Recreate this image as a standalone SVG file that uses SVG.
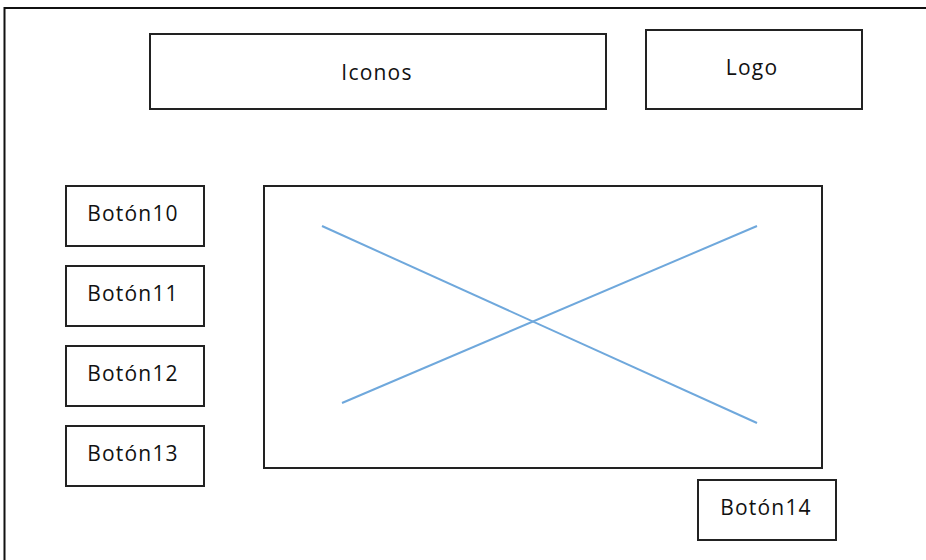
<svg xmlns="http://www.w3.org/2000/svg" width="926" height="560" viewBox="0 0 926 560">
  <style>
    .box { fill: #ffffff; stroke: #222222; stroke-width: 2; }
    .lbl { font-family: "Open Sans", "Noto Sans", sans-serif; font-size: 21px; letter-spacing: 1.2px; fill: #111111; text-anchor: middle; }
    .cross { stroke: #6fa8dc; stroke-width: 2; fill: none; }
  </style>
  <rect width="926" height="560" fill="#ffffff"/>
  <!-- page frame -->
  <rect id="frame" x="4.5" y="8" width="930" height="570" fill="none" stroke="#111111" stroke-width="2"/>

  <g id="iconos">
    <rect class="box" x="150" y="34" width="456" height="75"/>
    <text class="lbl" x="377" y="80">Iconos</text>
  </g>
  <g id="logo">
    <rect class="box" x="646" y="30" width="216" height="79"/>
    <text class="lbl" x="752" y="75">Logo</text>
  </g>
  <g id="boton10">
    <rect class="box" x="66" y="186" width="138" height="60"/>
    <text class="lbl" x="133" y="221">Botón10</text>
  </g>
  <g id="boton11">
    <rect class="box" x="66" y="266" width="138" height="60"/>
    <text class="lbl" x="133" y="301">Botón11</text>
  </g>
  <g id="boton12">
    <rect class="box" x="66" y="346" width="138" height="60"/>
    <text class="lbl" x="133" y="381">Botón12</text>
  </g>
  <g id="boton13">
    <rect class="box" x="66" y="426" width="138" height="60"/>
    <text class="lbl" x="133" y="461">Botón13</text>
  </g>
  <g id="imagen">
    <rect class="box" x="264" y="186" width="558" height="282"/>
  </g>
  <g id="boton14">
    <rect class="box" x="698" y="480" width="138" height="60"/>
    <text class="lbl" x="766" y="515">Botón14</text>
  </g>

  <g id="connectors">
    <line class="cross" x1="322" y1="226" x2="757" y2="423"/>
    <line class="cross" x1="342" y1="403" x2="757" y2="226"/>
  </g>
</svg>
